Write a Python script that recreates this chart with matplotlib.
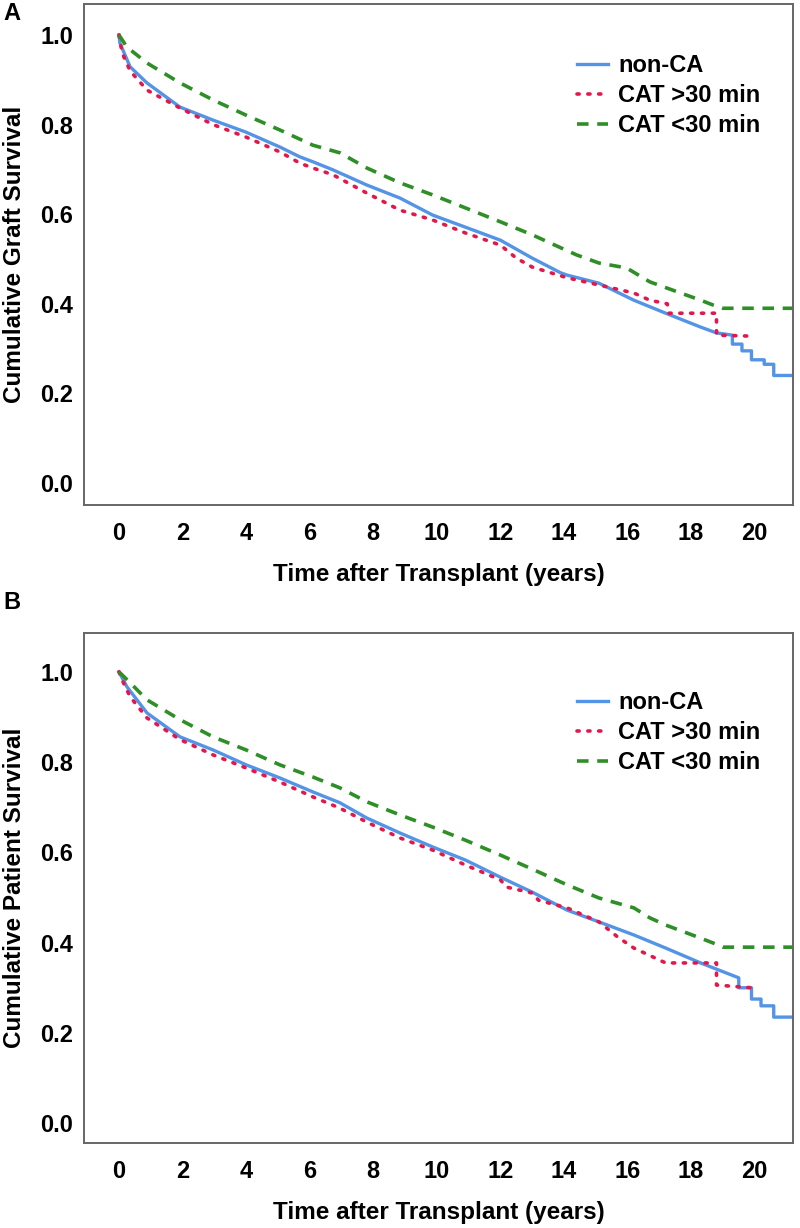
import matplotlib
matplotlib.use("Agg")
import matplotlib.pyplot as plt

# Kaplan-Meier curves (time in years, survival fraction)
# Panel A: graft survival
a_nonca_t = [0, 0.03, 0.35, 0.88, 1.92, 2.96, 4.0, 5.06, 5.69, 6.1, 6.73, 7.8, 8.84, 9.87, 10.9, 12.0,
             13.0, 13.9, 14.1, 15.1, 16.2, 17.2, 18.3, 18.8, 19.3, 19.3, 19.6, 19.6, 19.9, 19.9,
             20.3, 20.3, 20.6, 20.6, 21.2]
a_nonca_s = [1.0, 0.982, 0.929, 0.893, 0.839, 0.81, 0.783, 0.75, 0.728, 0.717, 0.699, 0.665, 0.636, 0.598,
             0.571, 0.542, 0.502, 0.469, 0.464, 0.446, 0.408, 0.379, 0.348, 0.335, 0.33, 0.31, 0.31,
             0.295, 0.295, 0.275, 0.275, 0.265, 0.265, 0.24, 0.24]

a_gt30_t = [0, 0.1, 0.35, 0.88, 1.92, 2.96, 4.0, 5.06, 5.69, 6.1, 6.73, 7.8, 8.84, 9.87, 10.9, 12.0,
            12.5, 13.0, 14.1, 15.1, 16.2, 16.7, 17.25, 17.3, 18.8, 18.8, 19.8]
a_gt30_s = [1.0, 0.96, 0.92, 0.877, 0.837, 0.80, 0.772, 0.739, 0.714, 0.703, 0.688, 0.647, 0.609, 0.587,
            0.558, 0.531, 0.502, 0.482, 0.458, 0.442, 0.424, 0.408, 0.40, 0.379, 0.379, 0.33, 0.328]

a_lt30_t = [0, 0.25, 0.88, 1.92, 2.96, 4.0, 5.06, 6.1, 6.95, 7.8, 8.84, 9.87, 10.9, 12.0, 13.0, 13.9,
            14.4, 15.1, 15.97, 16.7, 17.4, 18.3, 18.7, 19.0, 21.2]
a_lt30_s = [1.0, 0.973, 0.9375, 0.893, 0.855, 0.821, 0.788, 0.754, 0.737, 0.703, 0.67, 0.643, 0.614, 0.583,
            0.554, 0.525, 0.509, 0.491, 0.48, 0.449, 0.431, 0.408, 0.397, 0.39, 0.39]

# Panel B: patient survival
b_nonca_t = [0, 0.25, 0.88, 1.92, 2.96, 4.0, 5.06, 6.1, 6.95, 7.8, 8.84, 9.87, 10.9, 12.0, 13.0, 14.1,
             15.1, 16.2, 17.2, 18.3, 19.1, 19.5, 19.5, 19.9, 19.9, 20.2, 20.2, 20.6, 20.6, 21.2]
b_nonca_s = [1.0, 0.967, 0.909, 0.856, 0.827, 0.794, 0.765, 0.734, 0.71, 0.676, 0.643, 0.612, 0.583, 0.545,
             0.512, 0.472, 0.446, 0.417, 0.388, 0.355, 0.333, 0.322, 0.30, 0.30, 0.275, 0.275, 0.26,
             0.26, 0.235, 0.235]

b_gt30_t = [0, 0.1, 0.35, 0.88, 1.92, 2.96, 4.0, 5.06, 6.1, 6.95, 7.8, 8.84, 9.87, 10.9, 12.0, 12.2,
            13.0, 13.2, 14.1, 15.1, 15.7, 16.2, 17.2, 18.8, 18.8, 19.9]
b_gt30_s = [1.0, 0.982, 0.945, 0.898, 0.85, 0.816, 0.787, 0.756, 0.723, 0.698, 0.667, 0.632, 0.605, 0.572,
            0.539, 0.523, 0.51, 0.494, 0.477, 0.446, 0.412, 0.388, 0.355, 0.355, 0.306, 0.30]

b_lt30_t = [0, 0.35, 0.88, 1.92, 2.96, 4.0, 5.06, 6.1, 6.95, 7.8, 8.84, 9.87, 10.9, 12.0, 13.0, 14.1,
            15.1, 16.2, 16.7, 17.2, 18.3, 18.7, 19.0, 21.2]
b_lt30_s = [1.0, 0.976, 0.938, 0.894, 0.856, 0.827, 0.794, 0.767, 0.743, 0.712, 0.683, 0.656, 0.627, 0.594,
            0.563, 0.528, 0.499, 0.477, 0.455, 0.439, 0.41, 0.399, 0.39, 0.39]

labels = ["non-CA", "CAT >30 min", "CAT <30 min"]
x_ticks = [0, 2, 4, 6, 8, 10, 12, 14, 16, 18, 20]
y_ticks = [0.0, 0.2, 0.4, 0.6, 0.8, 1.0]

BLUE = "#5394e6"
RED = "#e4174a"
GREEN = "#2f8f27"
EDGE = "#666666"

plt.rcParams["font.family"] = ["Liberation Sans", "DejaVu Sans"]
plt.rcParams["font.weight"] = "bold"


def draw_panel(ax, curves, ylabel, ylim):
    styles = [
        dict(color=BLUE, lw=2.4, ls="-"),
        dict(color=RED, lw=2.6, ls=(0, (0.6, 2.4)), dash_capstyle="round"),
        dict(color=GREEN, lw=2.6, ls=(0, (3.2, 2.4))),
    ]
    for (t, s), lab, st in zip(curves, labels, styles):
        ax.plot(t, s, label=lab, **st)

    ax.set_xlim(-1.1, 21.2)
    ax.set_ylim(*ylim)
    ax.set_xticks(x_ticks)
    ax.set_yticks(y_ticks)
    ax.set_yticklabels([f"{v:.1f}" for v in y_ticks])
    ax.tick_params(length=0, labelsize=17)
    ax.tick_params(axis="x", pad=12)
    ax.tick_params(axis="y", pad=8)
    for sp in ax.spines.values():
        sp.set_color(EDGE)
        sp.set_linewidth(1.4)
    ax.set_xlabel("Time after Transplant (years)", fontsize=17.5, fontweight="bold", labelpad=13)
    ax.set_ylabel(ylabel, fontsize=17.5, fontweight="bold", labelpad=10)
    ax.legend(loc="upper left", bbox_to_anchor=(14.1, 0.979), bbox_transform=ax.transData,
              frameon=False, fontsize=17, handlelength=1.35, handletextpad=0.42,
              labelspacing=0.3, borderaxespad=0)


fig = plt.figure(figsize=(8, 12.28), dpi=100)
ax_a = fig.add_axes([0.105, 0.5888, 0.886, 0.4079])
ax_b = fig.add_axes([0.105, 0.0692, 0.886, 0.4153])

draw_panel(ax_a, [(a_nonca_t, a_nonca_s), (a_gt30_t, a_gt30_s), (a_lt30_t, a_lt30_s)],
           "Cumulative Graft Survival", (-0.049, 1.069))
draw_panel(ax_b, [(b_nonca_t, b_nonca_s), (b_gt30_t, b_gt30_s), (b_lt30_t, b_lt30_s)],
           "Cumulative Patient Survival", (-0.044, 1.086))

fig.text(0.004, 0.989, "A", fontsize=17, fontweight="bold", va="center")
fig.text(0.004, 0.509, "B", fontsize=17, fontweight="bold", va="center")

fig.savefig("out.png", dpi=100)
